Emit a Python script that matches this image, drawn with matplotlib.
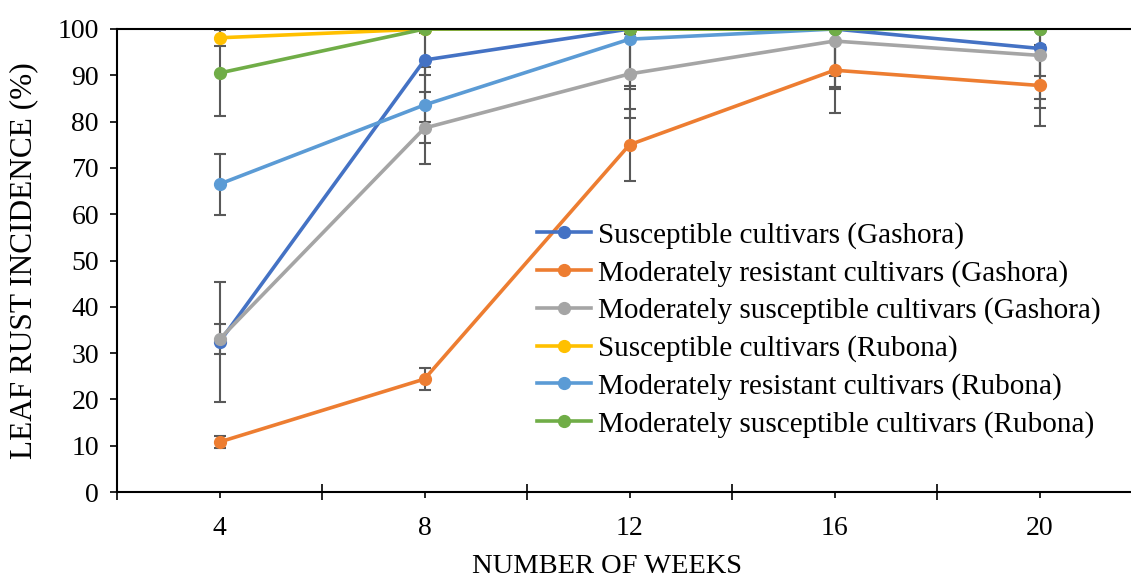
import numpy as np
import matplotlib
matplotlib.use("Agg")
import matplotlib.pyplot as plt
from matplotlib.ticker import MultipleLocator, FixedLocator

plt.rcParams['font.family'] = ['Liberation Serif', 'DejaVu Serif']

weeks = [4, 8, 12, 16, 20]

labels = ["Susceptible cultivars (Gashora)",
          "Moderately resistant cultivars (Gashora)",
          "Moderately susceptible cultivars (Gashora)",
          "Susceptible cultivars (Rubona)",
          "Moderately resistant cultivars (Rubona)",
          "Moderately susceptible cultivars (Rubona)"]

sus_gashora = [32.4, 93.3, 100.0, 100.0, 95.8]
mr_gashora = [10.8, 24.4, 75.0, 91.1, 87.8]
ms_gashora = [33.0, 78.6, 90.3, 97.4, 94.3]
sus_rubona = [98.1, 100.0, 100.0, 100.0, 100.0]
mr_rubona = [66.5, 83.6, 97.8, 100.0, 100.0]
ms_rubona = [90.5, 100.0, 100.0, 100.0, 100.0]

# standard errors
err_sus_gashora = [13.0, 13.4, 12.3, 10.2, 6.0]
err_mr_gashora = [1.2, 2.4, 7.8, 9.3, 8.8]
err_ms_gashora = [3.2, 7.8, 9.5, 10.0, 9.4]
err_sus_rubona = [1.8, 0.9, 1.1, 0.0, 0.0]
err_mr_rubona = [6.6, 8.3, 10.8, 13.0, 17.1]
err_ms_rubona = [9.3, 10.0, 0.0, 0.0, 0.0]

series = [sus_gashora, mr_gashora, ms_gashora, sus_rubona, mr_rubona, ms_rubona]
errors = [err_sus_gashora, err_mr_gashora, err_ms_gashora,
          err_sus_rubona, err_mr_rubona, err_ms_rubona]
colors = ['#4472C4', '#ED7D31', '#A5A5A5', '#FFC000', '#5B9BD5', '#70AD47']

fig = plt.figure(figsize=(11.31, 5.79), dpi=100)
# right edge of the plot area sits just past the image edge, like the source
ax = fig.add_axes([117/1131, 87/579, 1025/1131, 463/579])

handles = []
for vals, err, c, lab in zip(series, errors, colors, labels):
    eb = ax.errorbar(weeks, vals, yerr=err, color=c, lw=2.6, marker='o',
                     markersize=8.5, ecolor='#595959', elinewidth=1.5,
                     capsize=4.5, capthick=1.5, label=lab)
    handles.append(eb[0])

ax.set_xlim(2, 22)
ax.set_ylim(0, 100)

ax.spines['right'].set_visible(False)
for s in ['left', 'bottom', 'top']:
    ax.spines[s].set_linewidth(1.5)
    ax.spines[s].set_color('black')

ax.yaxis.set_major_locator(MultipleLocator(10))
ax.tick_params(axis='y', direction='out', length=5, width=1.2, labelsize=20, pad=8)

# category axis: long ticks between categories, short ones under labels
ax.xaxis.set_major_locator(FixedLocator(weeks))
ax.xaxis.set_minor_locator(FixedLocator([2, 6, 10, 14, 18, 22]))
ax.tick_params(axis='x', which='major', direction='out', length=4.5, width=1.2,
               labelsize=20, pad=13)
ax.tick_params(axis='x', which='minor', direction='inout', length=12, width=1.2)

ax.set_xlabel("NUMBER OF WEEKS", fontsize=20.5)
ax.xaxis.set_label_coords(490/1025, -0.133)
ax.set_ylabel("LEAF RUST INCIDENCE (%)", fontsize=22.5)
ax.yaxis.set_label_coords(-79/1025, 0.50)

ax.legend(handles=handles, labels=labels, loc='upper left',
          bbox_to_anchor=(537/1131, 1 - 222/579), bbox_transform=fig.transFigure,
          frameon=False, fontsize=21, handlelength=1.85, handletextpad=0.25,
          labelspacing=0.37, borderpad=0, borderaxespad=0, numpoints=1)

fig.savefig("out.png", dpi=100)
